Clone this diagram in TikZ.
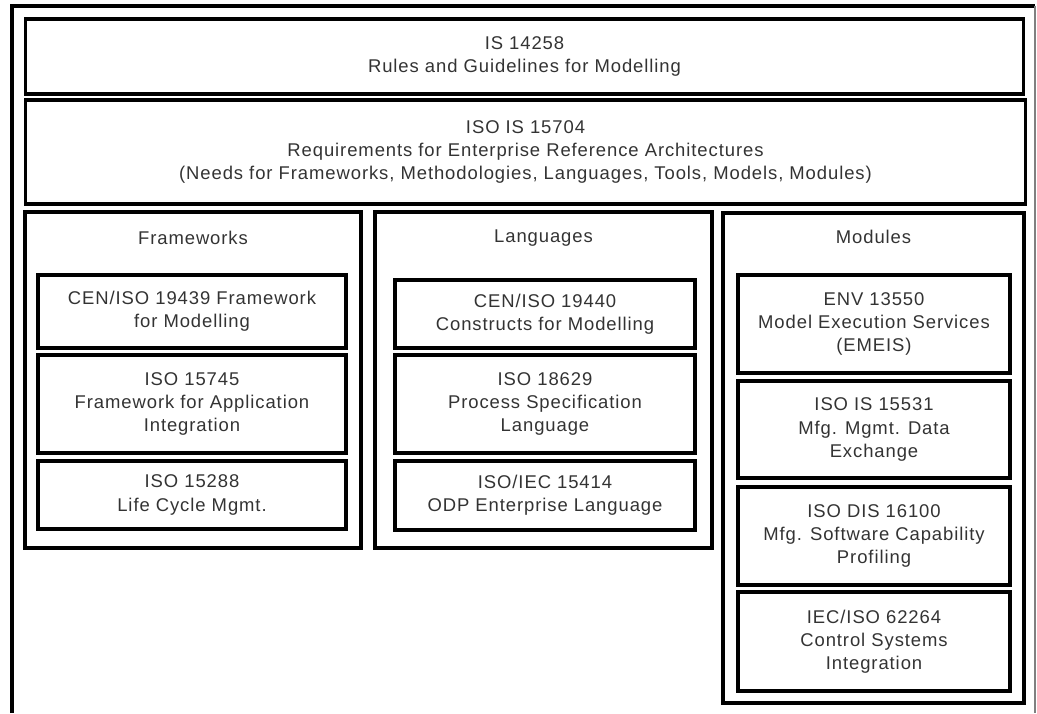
\documentclass[tikz,border=0pt]{standalone}
\usepackage{fontspec}
\setmainfont[LetterSpace=5]{Liberation Sans}

\begin{document}
\begin{tikzpicture}[x=0.02cm,y=-0.02cm,
  font=\fontsize{10.5}{13.2}\selectfont,
  box/.style={draw,line width=1.8pt,align=center,text=black!80,inner sep=0pt},
  title/.style={text=black!80}]
\useasboundingbox (0,0) rectangle (1037,713);
\draw[line width=2pt] (12,713) -- (12,6) -- (1035,6); %frame left and top
\draw[gray,line width=0.6pt] (1035,6) -- (1035,713); %frame right
\node[box,minimum width=19.98cm,minimum height=1.5cm] (rules) at (524.5,56.5) {IS 14258\\Rules and Guidelines for Modelling}; %top
\node[box,minimum width=20.02cm,minimum height=2.08cm] (reqs) at (525.5,152) {ISO IS 15704\\Requirements for Enterprise Reference Architectures\\(Needs for Frameworks, Methodologies, Languages, Tools, Models, Modules)};
% three columns
\node[box,minimum width=6.72cm,minimum height=6.72cm] (frames) at (193,380) {};
\node[box,minimum width=6.74cm,minimum height=6.72cm] (langs) at (543.5,380) {};
\node[box,minimum width=6.02cm,minimum height=9.8cm] (mods) at (873.5,458) {};
\node[title] (framestitle) at (193,238) {Frameworks};
\node[title] (langstitle) at (543.5,238) {Languages};
\node[title] (modstitle) at (873.5,237) {Modules};
% frameworks
\node[box,minimum width=6.16cm,minimum height=1.46cm] (fw1) at (192,311.5) {CEN/ISO 19439 Framework\\for Modelling};
\node[box,minimum width=6.16cm,minimum height=1.96cm] (fw2) at (192,404) {ISO 15745\\Framework for Application\\Integration};
\node[box,minimum width=6.16cm,minimum height=1.36cm] (fw3) at (192,495) {ISO 15288\\Life Cycle Mgmt.};
% languages
\node[box,minimum width=6cm,minimum height=1.36cm] (lg1) at (545,314) {CEN/ISO 19440\\Constructs for Modelling};
\node[box,minimum width=6cm,minimum height=1.96cm] (lg2) at (545,404) {ISO 18629\\Process Specification\\Language};
\node[box,minimum width=6cm,minimum height=1.38cm] (lg3) at (545,495.5) {ISO/IEC 15414\\ODP Enterprise Language};
% modules
\node[box,minimum width=5.44cm,minimum height=1.96cm] (md1) at (874,324) {ENV 13550\\Model Execution Services\\(EMEIS)};
\node[box,minimum width=5.44cm,minimum height=1.94cm] (md2) at (874,429.5) {ISO IS 15531\\Mfg. Mgmt. Data\\Exchange};
\node[box,minimum width=5.44cm,minimum height=1.96cm] (md3) at (874,536) {ISO DIS 16100\\Mfg. Software Capability\\Profiling};
\node[box,minimum width=5.44cm,minimum height=1.98cm] (md4) at (874,641.5) {IEC/ISO 62264\\Control Systems\\Integration};
\end{tikzpicture}
\end{document}
